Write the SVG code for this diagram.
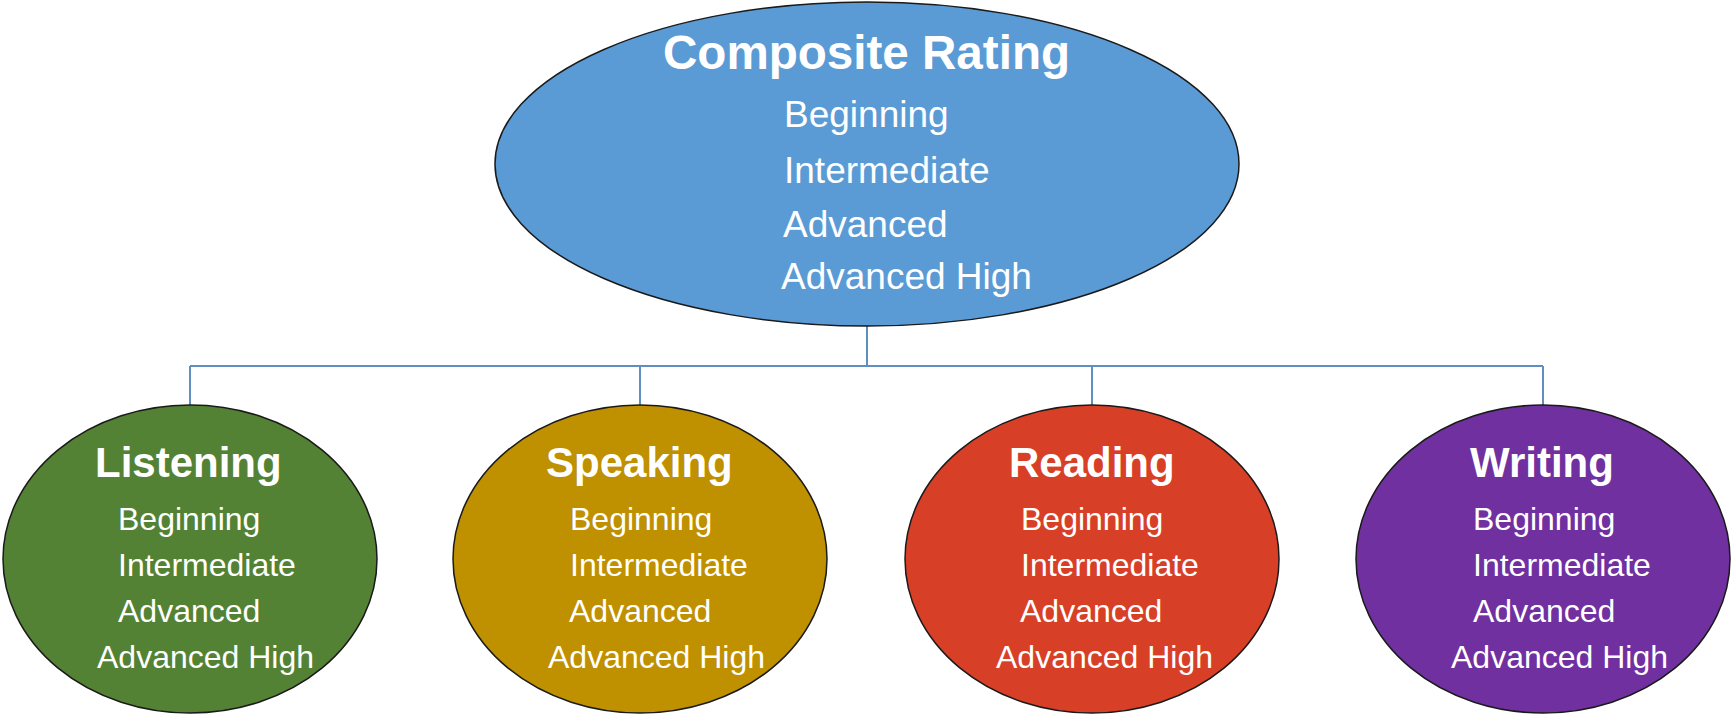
<svg xmlns="http://www.w3.org/2000/svg" width="1735" height="715" viewBox="0 0 1735 715">
<style>
.node{stroke:#1a1a1a;stroke-width:1.5}
.t{fill:#ffffff;font-family:"Liberation Sans",Arial,sans-serif}
.title{font-weight:bold;font-size:42px}
.item{font-size:32px}
.ttop{font-weight:bold;font-size:48px}
.itop{font-size:37px}
.conn{fill:none;stroke:#5f8fc0;stroke-width:2}
</style>
<rect width="1735" height="715" fill="#ffffff"/>
<g id="connectors">
<path class="conn" d="M867,326 V366 M190,366 H1543 M190,366 V405 M640,366 V405 M1092,366 V405 M1543,366 V405"/>
</g>
<g id="composite">
<ellipse class="node" cx="867" cy="164" rx="372" ry="162" fill="#5b9bd5"/>
<text class="t ttop" x="663" y="69" textLength="407" lengthAdjust="spacingAndGlyphs">Composite Rating</text>
<text class="t itop" x="784" y="127">Beginning</text>
<text class="t itop" x="784" y="183">Intermediate</text>
<text class="t itop" x="783" y="237">Advanced</text>
<text class="t itop" x="781" y="289">Advanced High</text>
</g>
<g id="listening">
<ellipse class="node" cx="190" cy="559" rx="187" ry="154" fill="#548235"/>
<text class="t title" x="95" y="477">Listening</text>
<text class="t item" x="118" y="530">Beginning</text>
<text class="t item" x="118" y="576">Intermediate</text>
<text class="t item" x="118" y="622">Advanced</text>
<text class="t item" x="97" y="668">Advanced High</text>
</g>
<g id="speaking">
<ellipse class="node" cx="640" cy="559" rx="187" ry="154" fill="#bf9000"/>
<text class="t title" x="546" y="477">Speaking</text>
<text class="t item" x="570" y="530">Beginning</text>
<text class="t item" x="570" y="576">Intermediate</text>
<text class="t item" x="569" y="622">Advanced</text>
<text class="t item" x="548" y="668">Advanced High</text>
</g>
<g id="reading">
<ellipse class="node" cx="1092" cy="559" rx="187" ry="154" fill="#d83f27"/>
<text class="t title" x="1009" y="477">Reading</text>
<text class="t item" x="1021" y="530">Beginning</text>
<text class="t item" x="1021" y="576">Intermediate</text>
<text class="t item" x="1020" y="622">Advanced</text>
<text class="t item" x="996" y="668">Advanced High</text>
</g>
<g id="writing">
<ellipse class="node" cx="1543" cy="559" rx="187" ry="154" fill="#7030a0"/>
<text class="t title" x="1470" y="477">Writing</text>
<text class="t item" x="1473" y="530">Beginning</text>
<text class="t item" x="1473" y="576">Intermediate</text>
<text class="t item" x="1473" y="622">Advanced</text>
<text class="t item" x="1451" y="668">Advanced High</text>
</g>
</svg>
